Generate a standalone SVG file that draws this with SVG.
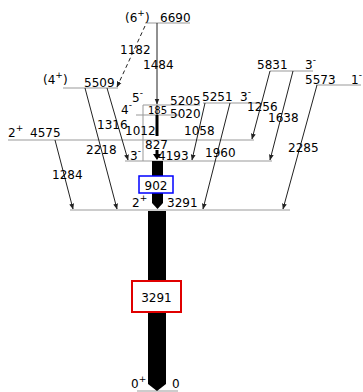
<svg xmlns="http://www.w3.org/2000/svg" width="363" height="392" viewBox="0 0 363 392">
<style>
text{font-family:"DejaVu Sans",Verdana,sans-serif;font-size:12px;fill:#000}
.sm{font-size:10px}
.sup{font-size:9px}
.lv{stroke:#999;stroke-width:1.2;fill:none}
.tr{stroke:#222;stroke-width:1;fill:none;marker-end:url(#ah)}
</style>
<defs>
<marker id="ah" viewBox="0 0 10 10" refX="9" refY="5" markerWidth="6" markerHeight="6" orient="auto" markerUnits="userSpaceOnUse">
<path d="M0,1 L10,5 L0,9 Z" fill="#222"/>
</marker>
</defs>
<rect width="363" height="392" fill="#fff"/>
<g id="lvl6690"><line class="lv" x1="145" y1="23" x2="190" y2="23"/><text x="125" y="22">(6<tspan class="sup" dy="-6">+</tspan><tspan dy="6">)</tspan></text><text x="160" y="22">6690</text></g>
<g id="lvl5509"><line class="lv" x1="63" y1="88" x2="118" y2="88"/><text x="43" y="84">(4<tspan class="sup" dy="-6">+</tspan><tspan dy="6">)</tspan></text><text x="84" y="87">5509</text></g>
<g id="lvl5831"><line class="lv" x1="270" y1="71" x2="313" y2="71"/><text x="257" y="69">5831</text><text x="305" y="69">3<tspan class="sup" dy="-6">-</tspan></text></g>
<g id="lvl5573"><line class="lv" x1="316" y1="85" x2="361" y2="85"/><text x="305" y="84">5573</text><text x="351" y="84">1<tspan class="sup" dy="-6">-</tspan></text></g>
<g id="lvl5251"><line class="lv" x1="203" y1="103" x2="259" y2="103"/><text x="202" y="101">5251</text><text x="240" y="101">3<tspan class="sup" dy="-6">-</tspan></text></g>
<g id="lvl5205"><line class="lv" x1="143" y1="105" x2="200" y2="105"/><text x="132" y="102">5<tspan class="sup" dy="-6">-</tspan></text><text x="170" y="105">5205</text></g>
<g id="lvl5020"><line class="lv" x1="136" y1="115" x2="180" y2="115"/><text x="121" y="114">4<tspan class="sup" dy="-6">-</tspan></text><text x="170" y="118">5020</text></g>
<g id="lvl4575"><line class="lv" x1="8" y1="140" x2="254" y2="140"/><text x="8" y="137">2<tspan class="sup" dy="-6">+</tspan></text><text x="30" y="137">4575</text></g>
<g id="lvl4193"><line class="lv" x1="125" y1="161" x2="272" y2="161"/><text x="130" y="160">3<tspan class="sup" dy="-6">-</tspan></text><text x="158" y="160">4193</text></g>
<g id="lvl3291"><line class="lv" x1="70" y1="210" x2="290" y2="210"/><text x="132" y="207">2<tspan class="sup" dy="-6">+</tspan></text><text x="167" y="207">3291</text></g>
<g id="lvl0"><line class="lv" x1="137" y1="391" x2="178" y2="391"/><text x="131" y="388">0<tspan class="sup" dy="-6">+</tspan></text><text x="172" y="388">0</text></g>
<g id="connectors">
<line class="tr" x1="145" y1="26" x2="117" y2="87" stroke-dasharray="4,3"/>
<line class="tr" x1="157" y1="23" x2="157" y2="104"/>
<line x1="143" y1="105" x2="143" y2="161" stroke="#999" stroke-width="1"/>
<line x1="157" y1="105" x2="157" y2="115" stroke="#222" stroke-width="1"/>
<line x1="157" y1="115" x2="157" y2="136" stroke="#000" stroke-width="3"/>
<line x1="157" y1="150" x2="157" y2="155" stroke="#000" stroke-width="3"/>
<path d="M153,154 L161,154 L157,160 Z" fill="#000"/>
<line class="tr" x1="85" y1="88" x2="117" y2="209"/>
<line class="tr" x1="107" y1="88" x2="128" y2="160"/>
<line class="tr" x1="55" y1="140" x2="73" y2="209"/>
<line class="tr" x1="205" y1="103" x2="192" y2="160"/>
<line class="tr" x1="230" y1="103" x2="203" y2="209" stroke-width="1.8"/>
<line class="tr" x1="270" y1="71" x2="252" y2="139"/>
<line class="tr" x1="293" y1="71" x2="270" y2="160"/>
<line class="tr" x1="317" y1="85" x2="283" y2="209"/>
<path d="M152,161 L163,161 L163,203 L157.5,209 L152,203 Z" fill="#000"/>
<path d="M148,211 L166,211 L166,384 L157,391 L148,384 Z" fill="#000"/>
</g>
<g id="labels">
<text x="120" y="54">1182</text>
<text x="143" y="69">1484</text>
<text class="sm" x="148" y="114">185</text>
<text x="97" y="129">1316</text>
<text x="125" y="135">1012</text>
<text x="145" y="149">827</text>
<text x="184" y="135">1058</text>
<text x="247" y="111">1256</text>
<text x="268" y="122">1638</text>
<text x="86" y="154">2218</text>
<text x="52" y="179">1284</text>
<text x="205" y="157">1960</text>
<text x="288" y="152">2285</text>
</g>
<g id="box902"><rect x="139" y="176" width="34" height="17" fill="#fff" stroke="#0000ff" stroke-width="1.5"/><text x="156" y="190" text-anchor="middle">902</text></g>
<g id="box3291"><rect x="132" y="281" width="49" height="31" fill="#fff" stroke="#e00000" stroke-width="2"/><text x="156.5" y="302" text-anchor="middle">3291</text></g>
</svg>
